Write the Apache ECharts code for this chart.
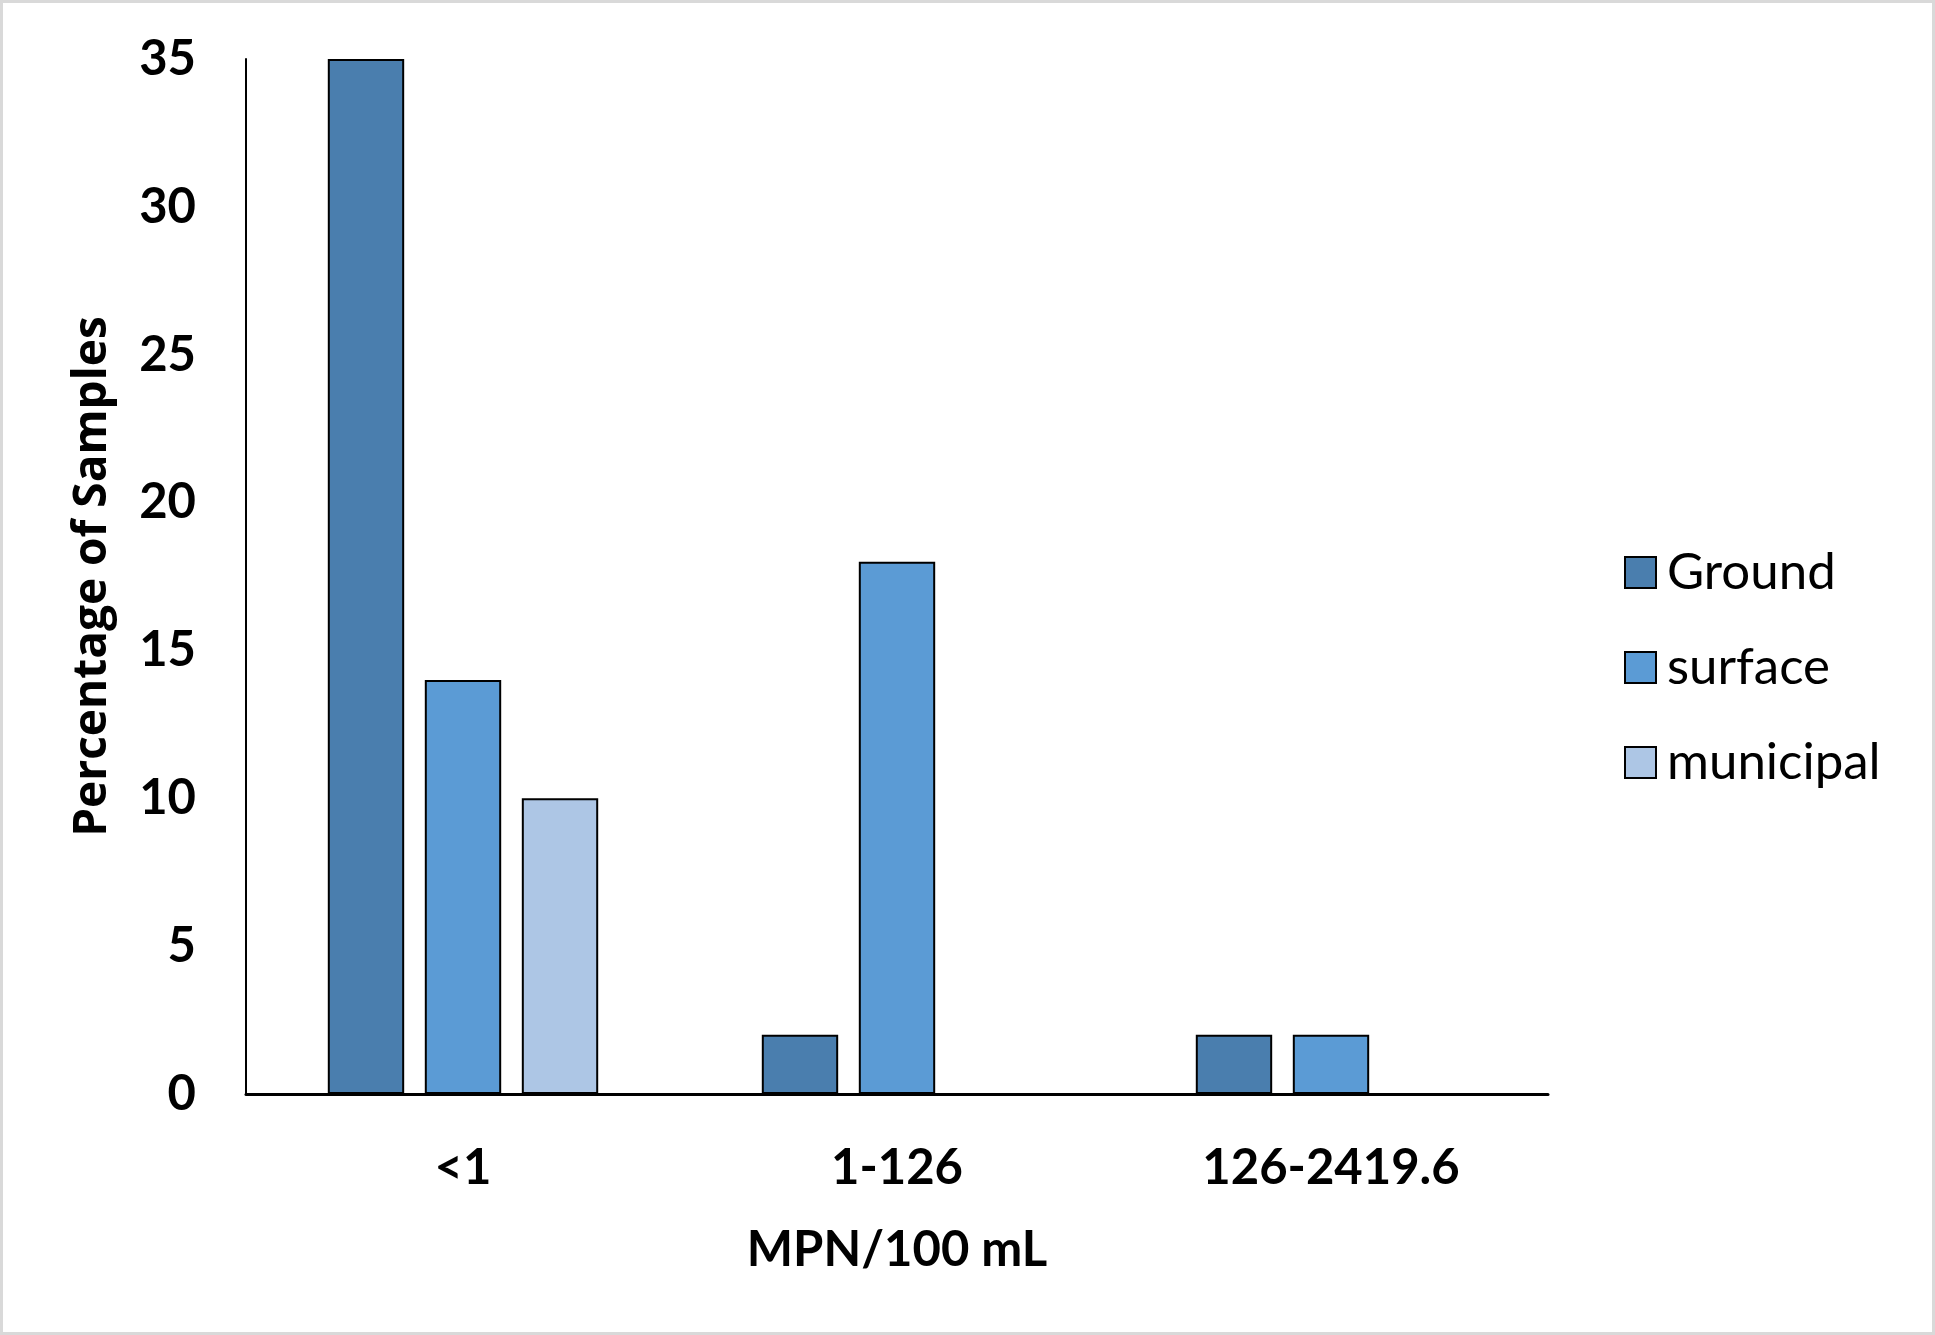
<!DOCTYPE html>
<html><head><meta charset="utf-8">
<script src="https://cdn.jsdelivr.net/npm/echarts@6/dist/echarts.min.js"></script>
<style>
html,body{margin:0;padding:0;background:#fff;}
#c{width:1935px;height:1335px;box-sizing:border-box;border:3px solid #d9d9d9;}
</style></head>
<body><div id="c"></div>
<script>
const categories = ['<1', '1-126', '126-2419.6'];
const ground = [35, 2, 2];
const surface = [14, 18, 2];
const municipal = [10, null, null];
const yTicks = [0, 5, 10, 15, 20, 25, 30, 35];

const chart = echarts.init(document.getElementById('c'));
const lab = {fontFamily: 'Lato', fontWeight: 'bold', fontSize: 49, color: '#000'};
function ser(name, data, color) {
  return {name, type: 'bar', data, barWidth: '17.6%', barGap: '27%',
    itemStyle: {color, borderColor: '#000', borderWidth: 2}};
}
chart.setOption({
  animation: false,
  grid: {left: 243, right: 384, top: 56, bottom: 238, containLabel: false},
  legend: {
    orient: 'vertical', left: 1616, top: 'middle', itemWidth: 31, itemHeight: 31, itemGap: 44,
    icon: 'rect',
    textStyle: {fontFamily: 'Lato', fontSize: 51, color: '#000', padding: [0, 0, 0, 6]},
    data: ['Ground', 'surface', 'municipal']
  },
  xAxis: {
    type: 'category', data: categories,
    axisLine: {lineStyle: {color: '#000', width: 3}},
    axisTick: {show: false},
    axisLabel: Object.assign({margin: 50}, lab),
    name: 'MPN/100 mL', nameLocation: 'middle', nameGap: 132,
    nameTextStyle: lab
  },
  yAxis: {
    type: 'value', min: 0, max: 35, interval: 5,
    axisLine: {show: true, lineStyle: {color: '#000', width: 2}},
    axisTick: {show: false}, splitLine: {show: false},
    axisLabel: Object.assign({margin: 50, formatter: v => yTicks.includes(v) ? String(v) : ''}, lab),
    name: 'Percentage of Samples', nameLocation: 'middle', nameGap: 130,
    nameTextStyle: {fontFamily: 'Open Sans', fontWeight: 'bold', fontSize: 46, color: '#000'}
  },
  series: [
    ser('Ground', ground, '#4a7eae'),
    ser('surface', surface, '#5b9bd5'),
    ser('municipal', municipal, '#adc6e5')
  ]
});
</script></body></html>
